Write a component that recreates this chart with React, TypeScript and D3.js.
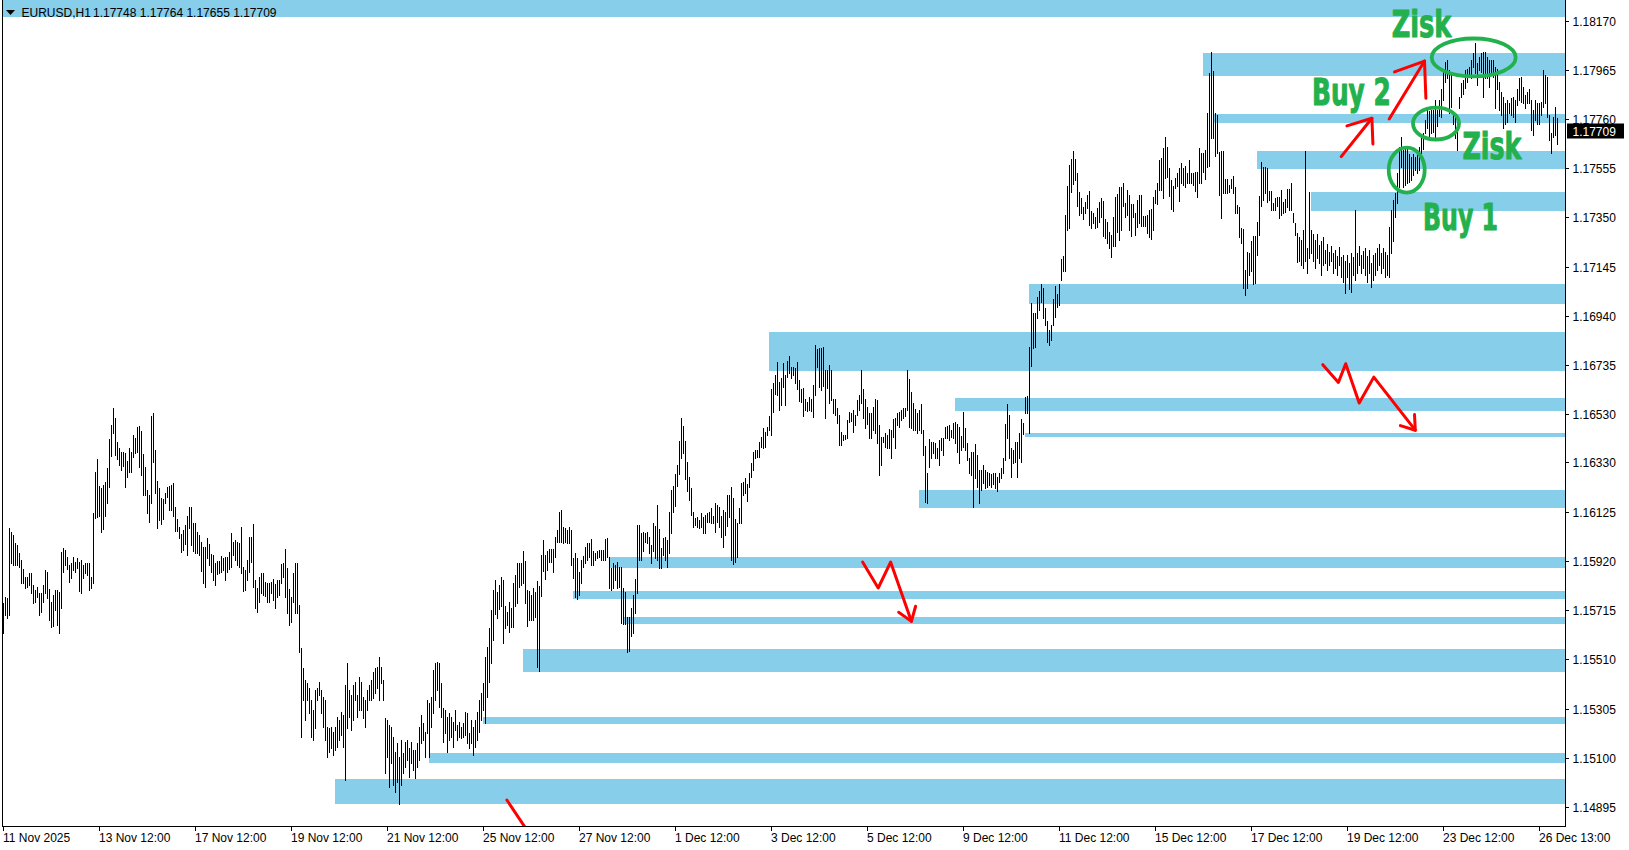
import React from "react";
import * as d3 from "d3";

// ---------- DATA ----------
// H1 bars, values in points (1e-5) above PRICE_BASE
const PRICE_BASE = 1.14;
const POINT = 0.00001;

const barHighPts = [
1743,1771,1764,2055,2041,2028,1993,1986,1951,1923,1885,1854,1854,1868,1868,1819,1798,1812,1785,1785,
1819,1882,1875,1801,1750,1778,1798,1798,1792,1958,1972,1965,1937,1903,1910,1937,1917,1930,1917,1923,
1903,1910,1910,1910,1854,2118,2291,2343,2232,2222,2236,2250,2305,2426,2486,2555,2513,2413,2388,2375,
2375,2368,2336,2388,2375,2444,2430,2479,2483,2461,2365,2309,2215,2194,2523,2534,2382,2252,2225,2180,
2177,2201,2229,2232,2236,2243,2143,2093,2062,2032,2048,2069,2107,2146,2143,2079,2076,2041,2028,2000,
1979,1979,2014,1990,1948,1944,1912,1919,1919,1940,1930,1937,1935,1958,2035,2000,2007,2000,1993,2062,
1896,1882,1923,2018,2021,2073,1840,1805,1854,1871,1868,1833,1826,1826,1833,1843,1824,1840,1840,1907,
1912,1968,1889,1801,1771,1871,1910,1910,1736,1556,1472,1424,1410,1389,1341,1299,1382,1389,1417,1382,
1354,1341,1230,1223,1230,1209,1230,1271,1257,1292,1278,1403,1496,1382,1361,1403,1417,1361,1438,1417,
1354,1341,1382,1403,1424,1458,1472,1479,1521,1479,1424,1264,1257,1236,1230,1188,1125,1160,1105,1174,
1118,1167,1174,1139,1167,1132,1132,1160,1230,1278,1243,1209,1341,1327,1354,1465,1493,1500,1493,1410,
1306,1299,1271,1285,1271,1250,1299,1236,1250,1230,1243,1292,1285,1202,1257,1230,1257,1292,1341,1368,
1410,1521,1563,1639,1715,1800,1840,1790,1820,1854,1841,1730,1709,1750,1723,1827,1861,1910,1910,1910,
1959,1920,1799,1795,1778,1806,1792,1838,1816,1945,2007,1945,1959,1970,1970,1970,2021,2049,2125,2132,
2063,2056,2049,2063,2049,1931,1954,1931,1875,1924,1941,1979,1993,1996,2010,1959,1952,1963,1966,1966,
1966,2011,2014,1938,1889,1910,1903,1917,1896,1896,1806,1792,1688,1688,1723,1778,1843,2070,2070,2035,
2042,2035,2042,2021,1986,2077,2067,2153,2052,1972,2014,2021,2007,2125,2215,2233,2280,2320,2420,2515,
2480,2420,2330,2270,2222,2125,2097,2104,2090,2118,2104,2111,2118,2125,2139,2107,2160,2153,2146,2107,
2132,2125,2195,2195,2229,2181,2093,2077,2139,2246,2249,2263,2242,2284,2326,2374,2381,2381,2416,2437,
2472,2458,2478,2523,2634,2659,2694,2749,2666,2683,2742,2694,2752,2773,2728,2728,2721,2749,2673,2634,
2638,2596,2583,2603,2596,2652,2819,2801,2805,2805,2812,2714,2714,2735,2714,2596,2592,2555,2527,2458,
2444,2444,2506,2541,2534,2548,2527,2590,2610,2714,2634,2596,2562,2534,2537,2562,2596,2590,2485,2437,
2437,2451,2444,2467,2465,2509,2513,2534,2541,2548,2555,2555,2714,2676,2624,2576,2551,2534,2548,2573,
2465,2398,2287,2426,2416,2416,2409,2388,2423,2430,2430,2478,2481,2485,2465,2492,2499,2490,2478,2440,
2541,2472,2409,2347,2374,2374,2406,2360,2298,2298,2319,2298,2291,2284,2281,2287,2284,2270,2284,2305,
2347,2490,2573,2527,2388,2381,2416,2416,2451,2509,2492,2603,2606,2809,2992,2951,2951,3020,3045,3071,
3055,2971,2920,2880,2900,3009,3064,3031,3071,3176,3189,3360,3481,3568,3592,3627,3592,3534,3456,3431,
3395,3416,3443,3461,3377,3367,3353,3388,3416,3430,3420,3343,3332,3291,3277,3353,3434,3448,3475,3475,
3492,3412,3464,3443,3406,3406,3367,3423,3443,3443,3356,3356,3360,3381,3384,3434,3464,3495,3589,3596,
3638,3686,3642,3554,3506,3481,3513,3534,3554,3575,3554,3564,3534,3589,3536,3536,3541,3541,3638,3620,
3620,3631,3783,3950,4040,3960,3783,3777,3624,3628,3627,3510,3510,3485,3510,3523,3475,3402,3395,3307,
3302,3131,3207,3201,3253,3273,3273,3330,3439,3582,3561,3559,3554,3461,3461,3412,3430,3434,3434,3464,
3416,3425,3467,3467,3495,3370,3328,3287,3267,3256,3297,3628,3221,3457,3297,3283,3256,3283,3235,3250,
3270,3214,3240,3207,3230,3200,3214,3190,3225,3186,3193,3170,3193,3160,3200,3186,3383,3200,3230,3193,
3210,3221,3190,3214,3160,3193,3200,3221,3240,3200,3221,3207,3193,3311,3381,3422,3450,3533,3644,3683,
3630,3644,3644,3616,3603,3616,3603,3610,3644,3686,3700,3755,3797,3794,3797,3797,3839,3797,3839,3883,
3964,3998,4005,3964,3943,3776,3769,3769,3852,3908,3922,3964,3970,3977,4005,4033,4077,3991,4019,4033,
4040,4040,4019,4005,4005,4005,3977,3970,3915,3873,3852,3825,3839,3825,3846,3852,3839,3883,3929,3933,
3894,3859,3873,3883,3839,3797,3839,3825,3825,3832,3964,3943,3936,3776,3700,3769,3811,3764
];

const barLowPts = [
1618,1694,1681,1694,1910,1903,1903,1903,1896,1826,1826,1805,1812,1819,1785,1743,1750,1771,1694,1708,
1750,1785,1764,1674,1646,1649,1715,1653,1621,1722,1875,1903,1885,1833,1847,1882,1875,1889,1796,1785,
1847,1868,1861,1798,1805,1826,2097,2104,2107,2041,2051,2107,2159,2226,2358,2454,2361,2344,2318,2298,
2315,2226,2268,2291,2291,2351,2370,2375,2312,2277,2194,2194,2118,2083,2162,2333,2204,2055,2090,2072,
2093,2159,2184,2132,2132,2107,2046,2046,2014,1958,1965,1990,1944,2058,1986,1962,1951,1951,1944,1879,
1826,1812,1930,1903,1875,1840,1819,1864,1868,1875,1882,1840,1875,1885,1896,1944,1923,1903,1896,1868,
1794,1799,1840,1875,1917,1812,1722,1708,1750,1785,1778,1774,1747,1750,1785,1757,1722,1771,1778,1826,
1854,1771,1701,1653,1667,1750,1701,1701,1542,1188,1341,1257,1341,1285,1188,1174,1223,1341,1361,1285,
1230,1174,1105,1125,1139,1112,1132,1146,1174,1195,1146,1007,1223,1271,1216,1257,1341,1271,1299,1299,
1264,1230,1299,1341,1341,1348,1368,1389,1341,1410,1341,1035,1105,980,1077,987,959,1000,908,987,
1035,1063,1091,1021,1077,1049,1014,1063,1091,1160,1174,1105,1202,1105,1230,1285,1341,1382,1313,1271,
1167,1202,1125,1174,1188,1146,1216,1174,1188,1181,1188,1195,1160,1139,1160,1112,1146,1174,1209,1257,
1299,1243,1354,1417,1493,1590,1700,1680,1720,1732,1577,1639,1653,1625,1646,1646,1730,1743,1813,1820,
1827,1743,1649,1674,1674,1674,1688,1480,1463,1774,1879,1845,1882,1917,1917,1875,1934,2000,1997,2000,
1993,2000,1996,1993,1903,1848,1768,1760,1778,1827,1896,1910,1924,1935,1903,1903,1924,1931,1938,1924,
1924,1924,1938,1806,1799,1806,1841,1806,1813,1660,1657,1655,1542,1546,1605,1619,1702,1785,1924,1924,
1959,2000,1993,1952,1913,1959,1931,1924,1889,1889,1945,1924,1896,1952,2035,2125,2150,2230,2280,2350,
2370,2260,2210,2174,2111,2063,2070,2063,2056,2063,2035,2035,2083,2083,2077,2079,2042,2083,2063,2021,
1979,2028,2065,2104,1924,1906,1917,1935,2077,2079,2194,2201,2170,2229,2270,2298,2347,2354,2351,2392,
2388,2395,2444,2465,2444,2541,2614,2610,2548,2569,2642,2569,2687,2701,2680,2694,2659,2634,2587,2583,
2523,2548,2545,2548,2545,2520,2610,2728,2645,2631,2648,2513,2638,2576,2590,2534,2527,2495,2402,2402,
2423,2426,2430,2499,2503,2458,2485,2527,2548,2578,2513,2472,2490,2430,2430,2465,2451,2409,2277,2319,
2416,2395,2388,2388,2347,2437,2388,2485,2478,2506,2513,2523,2548,2478,2472,2465,2465,2451,2465,2451,
2360,2166,2159,2312,2347,2367,2347,2347,2319,2381,2360,2430,2430,2423,2437,2430,2409,2374,2329,2381,
2395,2381,2340,2284,2277,2143,2263,2229,2162,2215,2243,2222,2229,2236,2229,2240,2222,2212,2249,2263,
2284,2340,2430,2347,2270,2326,2333,2270,2347,2333,2448,2534,2537,2451,2731,2805,2809,2930,2965,2999,
2930,2900,2830,2820,2840,2900,2937,2978,2985,3089,3128,3128,3298,3305,3457,3489,3506,3398,3360,3367,
3342,3367,3388,3318,3307,3328,3307,3312,3332,3353,3274,3263,3242,3221,3187,3231,3231,3291,3256,3298,
3399,3350,3360,3298,3273,3350,3277,3312,3325,3314,3314,3314,3284,3270,3259,3298,3409,3406,3464,3464,
3430,3513,3517,3439,3384,3378,3471,3481,3420,3495,3485,3478,3495,3495,3492,3485,3461,3436,3495,3495,
3541,3510,3561,3564,3682,3679,3606,3617,3443,3346,3453,3453,3453,3457,3471,3453,3367,3367,3270,3245,
3058,3026,3055,3110,3128,3071,3078,3194,3277,3398,3423,3453,3416,3423,3381,3381,3381,3398,3346,3360,
3370,3374,3392,3381,3381,3332,3277,3166,3170,3150,3140,3170,3120,3180,3200,3170,3140,3180,3160,3110,
3150,3160,3130,3150,3170,3120,3140,3110,3150,3100,3080,3035,3100,3050,3040,3110,3090,3120,3150,3120,
3140,3110,3080,3120,3060,3090,3110,3130,3150,3120,3140,3100,3110,3100,3200,3250,3350,3408,3478,3561,
3478,3485,3492,3499,3506,3526,3547,3533,3547,3617,3637,3700,3721,3686,3700,3707,3686,3730,3772,3769,
3839,3915,3929,3783,3811,3741,3679,3630,3804,3852,3866,3887,3915,3943,3929,3977,3950,3901,3964,3957,
3852,3929,3929,3894,3957,3936,3804,3883,3797,3776,3721,3741,3748,3783,3776,3769,3748,3818,3839,3832,
3825,3804,3825,3825,3714,3693,3755,3741,3741,3776,3811,3825,3769,3672,3617,3686,3693,3655
];

const priceTicks = [1.1817, 1.17965, 1.1776, 1.17555, 1.1735, 1.17145, 1.1694, 1.16735, 1.1653, 1.1633, 1.16125, 1.1592, 1.15715, 1.1551, 1.15305, 1.151, 1.14895];
const timeTickLabels = ["11 Nov 2025", "13 Nov 12:00", "17 Nov 12:00", "19 Nov 12:00", "21 Nov 12:00", "25 Nov 12:00", "27 Nov 12:00", "1 Dec 12:00", "3 Dec 12:00", "5 Dec 12:00", "9 Dec 12:00", "11 Dec 12:00", "15 Dec 12:00", "17 Dec 12:00", "19 Dec 12:00", "23 Dec 12:00", "26 Dec 13:00"];
const timeTickBars = [0, 48, 96, 144, 192, 240, 288, 336, 384, 432, 480, 528, 576, 624, 672, 720, 768];

const headerSymbol = "EURUSD,H1";
const headerOHLC = [1.17748, 1.17764, 1.17655, 1.17709];
const lastPrice = 1.17709;

// supply / demand zones: start bar, upper price, lower price
const zoneStart = [-4, 600, 605, 627, 654, 513, 383, 476, 511, 458, 303, 285, 310, 260, 240, 213, 166];
const zoneTop = [1.183, 1.18036, 1.17781, 1.17627, 1.17456, 1.17073, 1.16873, 1.16598, 1.16451, 1.16215, 1.15936, 1.15794, 1.15687, 1.15553, 1.1527, 1.1512, 1.15012];
const zoneBottom = [1.18185, 1.17939, 1.17744, 1.17553, 1.17378, 1.16991, 1.1671, 1.16544, 1.16436, 1.1614, 1.1589, 1.15761, 1.15657, 1.15457, 1.15241, 1.15078, 1.14907];

// annotations in (bar, price) space
const noteTexts = ["Zisk", "Buy 2", "Zisk", "Buy 1"];
const noteBar = [694.35, 654.5, 729.7, 710];
const notePrice = [1.18101, 1.17818, 1.17593, 1.17298];
const noteSpanBars = [29.85, 39.35, 29.5, 37.5];

const ringBar = [735.35, 716.5, 701.85];
const ringPrice = [1.18016, 1.17741, 1.17547];
const ringBarRadius = [21, 11.5, 9];
const ringPriceRadius = [0.00079, 0.000666, 0.000937];

const arrowShafts: [number, number][][] = [
  [[668.85, 1.17603], [684.2, 1.17763]],
  [[692.85, 1.1776], [710.5, 1.18001]],
  [[429.55, 1.15915], [437.35, 1.15807], [443.55, 1.15915], [453.95, 1.15668]],
  [[659.65, 1.16737], [667.45, 1.16663], [671.1, 1.16741], [677.85, 1.16577], [685.15, 1.16685], [705.9, 1.16464]],
  [[251.7, 1.14924], [264, 1.1477]],
];
const arrowHeads: [number, number][][] = [
  [[671.7, 1.17731], [684.2, 1.17763], [684.7, 1.17656]],
  [[695.5, 1.17956], [710.5, 1.18001], [711.2, 1.17846]],
  [[447.6, 1.15706], [453.95, 1.15668], [456.05, 1.15731]],
  [[698.45, 1.16483], [705.9, 1.16464], [705.5, 1.16529]],
];

// ---------- CHART ----------
const W = 1629;
const H = 850;
const PL = 2;      // plot left border
const PR = 1565;   // plot right border
const PB = 826;    // plot bottom border
const ZONE_COLOR = "#87CEEB";
const GREEN = "#22B14C";
const RED = "#FF0000";
const AXIS_FONT = "'Liberation Sans', Arial, sans-serif";

export default function App() {
  const n = Math.min(barHighPts.length, barLowPts.length);
  const x = d3.scaleLinear().domain([0, 1]).range([3, 5]);
  const y = d3.scaleLinear().domain([1.14895, 1.1817]).range([807, 20.5]);
  const px = (v: number) => PRICE_BASE + v * POINT;

  const line = d3
    .line<[number, number]>()
    .x((d) => x(d[0]) + 0.5)
    .y((d) => y(d[1]));

  const bars = [];
  for (let i = 0; i < n; i++) {
    const yt = Math.round(y(px(barHighPts[i])));
    const yb = Math.round(y(px(barLowPts[i])));
    bars.push(
      <rect key={i} x={x(i)} y={yt} width={1} height={Math.max(1, yb - yt + 1)} fill="#000" />
    );
  }

  const zones = zoneStart.map((s, k) => {
    const yt = Math.round(y(zoneTop[k]));
    const yb = Math.round(y(zoneBottom[k]));
    const x0 = x(s);
    return <rect key={k} x={x0} y={yt} width={PR - x0} height={yb - yt} fill={ZONE_COLOR} />;
  });

  const lastY = y(lastPrice);

  return (
    <svg
      width={W}
      height={H}
      style={{ position: "absolute", left: 0, top: 0, background: "#fff" }}
      xmlns="http://www.w3.org/2000/svg"
    >
      <defs>
        <clipPath id="plotClip">
          <rect x={PL + 1} y={0} width={PR - PL - 1} height={PB} />
        </clipPath>
      </defs>
      <rect x={0} y={0} width={W} height={H} fill="#fff" />

      <g clipPath="url(#plotClip)">
        <g shapeRendering="crispEdges">{zones}</g>
        <g shapeRendering="crispEdges">{bars}</g>

        {/* red arrows */}
        <g fill="none" stroke={RED} strokeWidth={3} strokeLinecap="round" strokeLinejoin="round">
          {arrowShafts.map((pts, k) => (
            <path key={"s" + k} d={line(pts) || ""} />
          ))}
          {arrowHeads.map((pts, k) => (
            <path key={"h" + k} d={line(pts) || ""} />
          ))}
        </g>

        {/* green rings */}
        <g fill="none" stroke={GREEN} strokeWidth={3.8}>
          {ringBar.map((b, k) => (
            <ellipse
              key={k}
              cx={x(b)}
              cy={y(ringPrice[k])}
              rx={x(b + ringBarRadius[k]) - x(b)}
              ry={y(ringPrice[k] - ringPriceRadius[k]) - y(ringPrice[k])}
            />
          ))}
        </g>

        {/* green labels */}
        <g
          fill={GREEN}
          stroke={GREEN}
          strokeWidth={1}
          strokeLinejoin="round"
          fontFamily="'Liberation Sans Narrow', 'DejaVu Sans Condensed', 'Liberation Sans', Arial, sans-serif"
          fontWeight="bold"
          fontSize={38}
        >
          {noteTexts.map((t, k) => (
            <text
              key={k}
              x={x(noteBar[k])}
              y={y(notePrice[k])}
              textLength={x(noteBar[k] + noteSpanBars[k]) - x(noteBar[k])}
              lengthAdjust="spacingAndGlyphs"
            >
              {t}
            </text>
          ))}
        </g>
      </g>

      {/* frame */}
      <g stroke="#000" strokeWidth={1} shapeRendering="crispEdges">
        <line x1={PL + 0.5} y1={0} x2={PL + 0.5} y2={PB + 0.5} />
        <line x1={PR + 0.5} y1={0} x2={PR + 0.5} y2={PB + 0.5} />
        <line x1={PL} y1={PB + 0.5} x2={PR + 1} y2={PB + 0.5} />
      </g>

      {/* header */}
      <path d="M6,10 L15,10 L10.5,15 Z" fill="#000" />
      <text x={21.5} y={16.5} fontFamily={AXIS_FONT} fontSize={12} fill="#000">
        {headerSymbol}
      </text>
      <text x={93} y={16.5} fontFamily={AXIS_FONT} fontSize={12} fill="#000">
        {headerOHLC.map((v) => v.toFixed(5)).join(" ")}
      </text>

      {/* price axis */}
      <g fontFamily={AXIS_FONT} fontSize={12} fill="#000">
        {priceTicks.map((p, k) => {
          const yy = Math.round(y(p));
          return (
            <g key={k}>
              <line x1={PR} x2={PR + 4} y1={yy + 0.5} y2={yy + 0.5} stroke="#000" shapeRendering="crispEdges" />
              <text x={1572.5} y={yy + 4.8}>
                {p.toFixed(5)}
              </text>
            </g>
          );
        })}
      </g>

      {/* last price marker */}
      <rect x={1567} y={Math.round(lastY) - 7.5} width={57} height={15} fill="#000" />
      <text x={1572.5} y={Math.round(lastY) + 4.8} fontFamily={AXIS_FONT} fontSize={12} fill="#fff">
        {lastPrice.toFixed(5)}
      </text>

      {/* time axis */}
      <g fontFamily={AXIS_FONT} fontSize={12} fill="#000">
        {timeTickBars.map((b, k) => {
          const xx = x(b);
          return (
            <g key={k}>
              <line x1={xx + 0.5} x2={xx + 0.5} y1={PB} y2={PB + 5} stroke="#000" shapeRendering="crispEdges" />
              <text x={xx} y={842}>
                {timeTickLabels[k]}
              </text>
            </g>
          );
        })}
      </g>
    </svg>
  );
}
